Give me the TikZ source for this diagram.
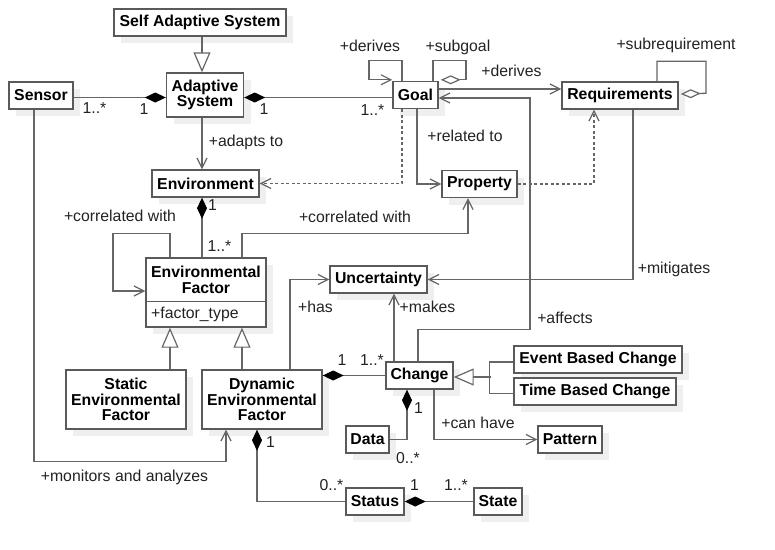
\documentclass[tikz,border=0pt]{standalone}
\usepackage{fontspec}
\setmainfont{Liberation Sans}
\usetikzlibrary{arrows.meta,shadows,calc}
\definecolor{linec}{HTML}{666666}
\definecolor{boxc}{HTML}{5A5A5A}
\definecolor{txtc}{HTML}{222222}
\definecolor{shadc}{HTML}{EFEFEF}
\begin{document}
\begin{tikzpicture}[x=1pt,y=-1pt,
 cls/.style={draw=boxc, line width=1.4pt, fill=white, inner sep=0pt, align=center,
   minimum height=27, font=\fontsize{15.8}{15.5}\selectfont\bfseries, text=black,
   drop shadow={shadow xshift=7pt,shadow yshift=-7pt,fill=shadc,opacity=1,draw=none}},
 clstext/.style={inner sep=0pt, align=center, font=\fontsize{15.8}{15.5}\selectfont\bfseries, text=black},
 lbl/.style={inner sep=0pt, font=\fontsize{15.8}{16}\selectfont, text=txtc, text height=11.4pt, text depth=3.2pt},
 conn/.style={draw=linec, line width=1.3pt},
 ar/.style={conn, -{Straight Barb[length=10pt,width=10pt,line width=1.2pt]}},
 dep/.style={ar, dash pattern=on 3pt off 2.5pt},
 gen/.style={conn, -{Triangle[open,length=20pt,width=17pt,fill=white,line width=1.2pt]}},
 comp/.style={conn, {Diamond[length=21pt,width=10pt,color=black]}-},
 agg/.style={conn, -{Diamond[open,length=20pt,width=9pt,fill=white,line width=1.2pt]}},
]
\useasboundingbox (0,0) rectangle (775,549);

% classes
\node[cls, minimum width=172] (sas) at (200,22.5) {Self Adaptive System};
\node[cls, minimum width=77, minimum height=44] (as) at (205,95) {Adaptive\\System};
\node[cls, minimum width=64] (sensor) at (41,95.5) {Sensor};
\node[cls, minimum width=107] (env) at (205.5,183.5) {Environment};
\node[cls, minimum width=45] (goal) at (415.5,95) {Goal};
\node[cls, minimum width=116] (req) at (620,95.5) {Requirements};
\node[cls, minimum width=75] (prop) at (479.5,184) {Property};
\node[cls, minimum width=120, minimum height=69] (ef) at (206,292.5) {};
\node[clstext] (eft) at (206,280) {Environmental\\Factor};
\draw[draw=boxc, line width=1.4pt] ([yshift=-44pt]ef.north west) -- ([yshift=-44pt]ef.north east);
\node[lbl, anchor=west] (efa) at (151,314.5) {+factor\_type};
\node[cls, minimum width=120, minimum height=59] (sef) at (126,399.5) {Static\\Environmental\\Factor};
\node[cls, minimum width=120, minimum height=59] (def) at (262,399.5) {Dynamic\\Environmental\\Factor};
\node[cls, minimum width=97] (unc) at (378.5,279.5) {Uncertainty};
\node[cls, minimum width=67] (change) at (419.5,375.5) {Change};
\node[cls, minimum width=168] (ebc) at (598,359.5) {Event Based Change};
\node[cls, minimum width=162] (tbc) at (595,391.5) {Time Based Change};
\node[cls, minimum width=64] (pattern) at (570,439.5) {Pattern};
\node[cls, minimum width=43] (data) at (367.5,439.5) {Data};
\node[cls, minimum width=58] (status) at (375,501.5) {Status};
\node[cls, minimum width=48] (state) at (498,501.5) {State};

% connectors
\draw[gen] ([xshift=2pt]sas.south) -- ([xshift=-3pt]as.north);
\draw[comp] ([yshift=-2.5pt]as.west) -- ([yshift=-2.5pt]as.west -| sensor.east);
\draw[comp] ([yshift=-2.5pt]as.east) -- ([yshift=-2.5pt]as.east -| goal.west);
\draw[ar] ([xshift=-3pt]as.south) -- ([xshift=-3pt]as.south |- env.north);
\draw[ar] ([yshift=6pt]goal.east) -- ([yshift=6pt]goal.east -| req.west);
\draw[ar] ([xshift=-13.5pt]goal.north) -- ++(0,-20) -- ++(-33,0) -- ++(0,19) -- ([yshift=1pt]goal.north west);
\draw[agg] ([xshift=17.5pt]goal.north) -- ++(0,-20) -- ++(33,0) -- ++(0,19) -- ([xshift=2pt,yshift=1pt]goal.north east);
\draw[agg] ([xshift=37pt]req.north) -- ++(0,-20) -- ++(49,0) -- ++(0,32) -- ([xshift=2pt,yshift=1.5pt]req.east);
\draw[dep] ([xshift=-13.5pt]goal.south) |- (env.east);
\draw[ar] ([xshift=1.5pt]goal.south) |- (prop.west);
\draw[dep] (prop.east) -| ([xshift=-26pt]req.south);
\draw[ar] ([xshift=-1.5pt]change.north) -- ++(0,-32) -- ++(112,0) |- ([yshift=-3pt]goal.east);
\draw[ar] ([xshift=13pt]req.south) |- (unc.east);
\draw[ar] ([xshift=-36pt]ef.north) -- ++(0,-24) -- ++(-57,0) |- ([yshift=1.5pt]ef.west);
\draw[comp] ([xshift=-3.5pt]env.south) -- ([xshift=-3.5pt]env.south |- ef.north);
\draw[ar] ([xshift=36pt]ef.north) -- ++(0,-24) -| ([xshift=-11.5pt]prop.south);
\draw[gen] ([xshift=44pt]sef.north) -- ([xshift=44pt]sef.north |- ef.south);
\draw[gen] ([xshift=-20pt]def.north) -- ([xshift=-20pt]def.north |- ef.south);
\draw[ar] ([xshift=28pt]def.north) |- (unc.west);
\draw[comp] (change.west -| def.east) -- (change.west);
\draw[ar] ([xshift=-25.5pt]change.north) -- ([xshift=-25.5pt]change.north |- unc.south);
\draw[gen] ([yshift=-2.5pt]ebc.west) -- ++(-24,0) |- ([yshift=-1.5pt]change.east);
\draw[conn] ([yshift=-2pt]tbc.west) -- ++(-24,0) |- ([yshift=-1.5pt,xshift=21pt]change.east);
\draw[conn, line width=2.4pt] ([yshift=-1.5pt,xshift=21pt]change.east) -- ++(16,0);
\draw[ar] ([xshift=14.5pt]change.south) |- (pattern.west);
\draw[comp] ([xshift=-12.5pt]change.south) |- (data.east);
\draw[ar] ([xshift=-7pt]sensor.south) -- ++(0,352) -| ([xshift=-36pt]def.south);
\draw[comp] ([xshift=-5pt]def.south) |- (status.west);
\draw[comp] (status.east) -- (state.west);

% labels
\node[lbl] (l1) at (370,47.5) {+derives};
\node[lbl] (l2) at (458,47.5) {+subgoal};
\node[lbl] (l3) at (511.5,72) {+derives};
\node[lbl] (l4) at (676,45) {+subrequirement};
\node[lbl] (l5) at (465,137) {+related to};
\node[lbl] (l6) at (246,142) {+adapts to};
\node[lbl] (l7) at (94.5,109) {1..*};
\node[lbl] (l8) at (144,110) {1};
\node[lbl] (l9) at (264,110) {1};
\node[lbl] (l10) at (372.5,111) {1..*};
\node[lbl] (l11) at (120,217) {+correlated with};
\node[lbl] (l12) at (212.5,206) {1};
\node[lbl] (l13) at (219.5,247) {1..*};
\node[lbl] (l14) at (355,218) {+correlated with};
\node[lbl] (l15) at (315.5,308) {+has};
\node[lbl] (l16) at (427.5,308) {+makes};
\node[lbl] (l17) at (565,319.5) {+affects};
\node[lbl] (l18) at (674,269) {+mitigates};
\node[lbl] (l19) at (342,361) {1};
\node[lbl] (l20) at (372,361) {1..*};
\node[lbl] (l21) at (418.5,409) {1};
\node[lbl] (l22) at (478,424) {+can have};
\node[lbl] (l23) at (408,459) {0..*};
\node[lbl] (l24) at (270.5,443) {1};
\node[lbl] (l25) at (124.5,477) {+monitors and analyzes};
\node[lbl] (l26) at (331.5,486) {0..*};
\node[lbl] (l27) at (414.5,486) {1};
\node[lbl] (l28) at (456,486) {1..*};
\end{tikzpicture}
\end{document}
